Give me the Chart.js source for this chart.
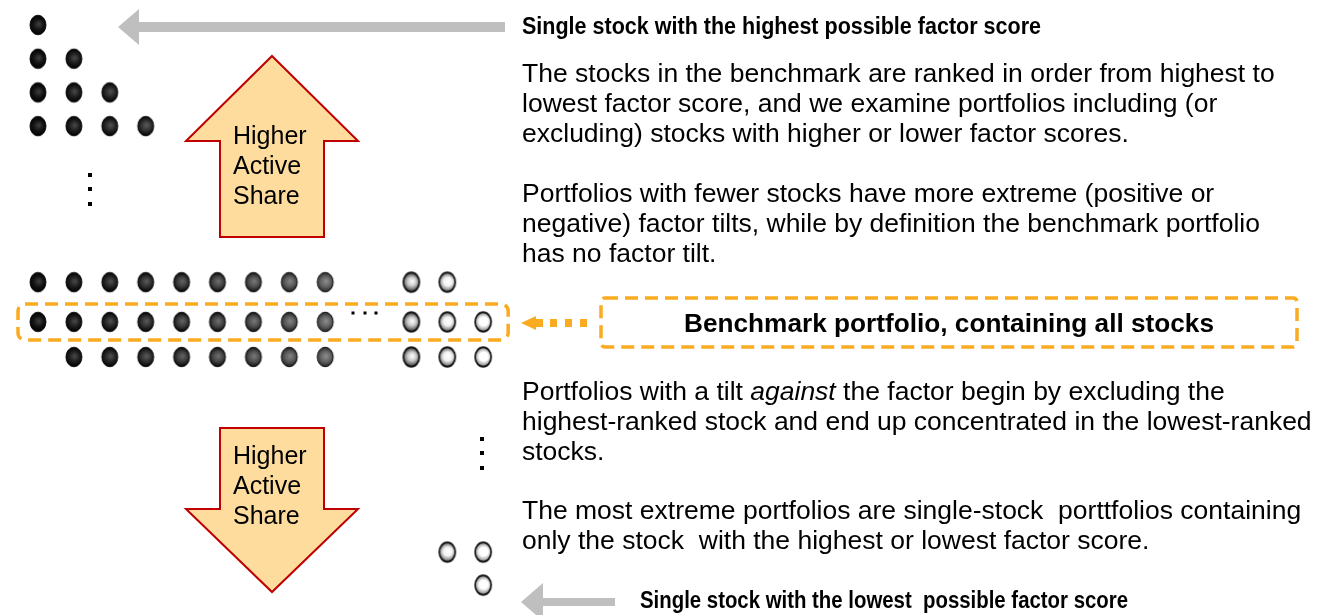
<!DOCTYPE html>
<html>
<head>
<meta charset="utf-8">
<script src="https://cdn.jsdelivr.net/npm/chart.js@4"></script>
<style>
  html, body { margin: 0; padding: 0; background: #fff; }
  #wrap { position: relative; width: 1320px; height: 615px; }
</style>
</head>
<body>
<div id="wrap"><canvas id="chart"></canvas></div>
<script>
// stock columns, ranked from highest to lowest factor score (gap = omitted stocks)
const columns = [0, 1, 2, 3, 4, 5, 6, 7, 8, 10.4, 11.4, 12.4];
// brightness of each stock's dot (0 = black, 1 = white)
const shades = [0.03, 0.07, 0.1, 0.14, 0.18, 0.22, 0.26, 0.3, 0.34, 0.74, 0.9, 1.0];

// portfolios: vertical position and which stocks (indexes into columns) they hold
const rowY = [0, 1, 2, 3, 7.63, 8.81, 9.85, 15.64, 16.62];
const rowMembers = [
  [0],
  [0, 1],
  [0, 1, 2],
  [0, 1, 2, 3],
  [0, 1, 2, 3, 4, 5, 6, 7, 8, 9, 10],
  [0, 1, 2, 3, 4, 5, 6, 7, 8, 9, 10, 11],
  [1, 2, 3, 4, 5, 6, 7, 8, 9, 10, 11],
  [10, 11],
  [11]
];
const benchmarkRow = 5;

const topLabel = "Single stock with the highest possible factor score";
const bottomLabel = "Single stock with the lowest  possible factor score";
const benchmarkLabel = "Benchmark portfolio, containing all stocks";
const arrowLabel = ["Higher", "Active", "Share"];

const paraTop = [
  "The stocks in the benchmark are ranked in order from highest to",
  "lowest factor score, and we examine portfolios including (or",
  "excluding) stocks with higher or lower factor scores.",
  "",
  "Portfolios with fewer stocks have more extreme (positive or",
  "negative) factor tilts, while by definition the benchmark portfolio",
  "has no factor tilt."
];
const paraBottom = [
  ["Portfolios with a tilt ", "against", " the factor begin by excluding the"],
  "highest-ranked stock and end up concentrated in the lowest-ranked",
  "stocks.",
  "",
  "The most extreme portfolios are single-stock  porttfolios containing",
  "only the stock  with the highest or lowest factor score."
];

const ORANGE = "#fbab1f";
const GREY = "#bfbfbf";
const SANS = '"Liberation Sans", Arial, sans-serif';
const NARROW = '"Liberation Sans Narrow", "Arial Narrow", "Liberation Sans", Arial, sans-serif';

// build point list from the arrays
const points = [];
rowMembers.forEach((members, r) => {
  members.forEach(ci => {
    points.push({ x: columns[ci], y: rowY[r], s: shades[ci] });
  });
});

// glossy dot images, cached by shade
const dotCache = {};
function grey(v) {
  const c = Math.max(0, Math.min(255, Math.round(v * 255)));
  return "rgb(" + c + "," + c + "," + c + ")";
}
function dotImage(s) {
  if (dotCache[s]) return dotCache[s];
  const c = document.createElement("canvas");
  c.width = 20; c.height = 24;
  const g = c.getContext("2d");
  const cx = 10, cy = 12, rx = 8, ry = 9.8;
  const grad = g.createRadialGradient(cx + 1, cy - 1, 0, cx, cy, ry);
  if (s > 0.6) {
    grad.addColorStop(0, "#ffffff");
    grad.addColorStop(0.45, grey(Math.min(1, s + 0.05)));
    grad.addColorStop(0.8, grey(s - 0.35));
    grad.addColorStop(1, "#111");
  } else {
    grad.addColorStop(0, grey(s + 0.22));
    grad.addColorStop(0.55, grey(s + 0.04));
    grad.addColorStop(1, grey(Math.max(0, s - 0.2)));
  }
  g.beginPath();
  g.ellipse(cx, cy, rx, ry, 0, 0, Math.PI * 2);
  g.fillStyle = grad;
  g.fill();
  g.lineWidth = s > 0.6 ? 1.8 : 1;
  g.strokeStyle = "rgba(0,0,0,0.85)";
  g.stroke();
  dotCache[s] = c;
  return c;
}

function poly(ctx, pts) {
  ctx.beginPath();
  ctx.moveTo(pts[0][0], pts[0][1]);
  for (let i = 1; i < pts.length; i++) ctx.lineTo(pts[i][0], pts[i][1]);
  ctx.closePath();
}

// draw text squeezed/stretched to a given width (narrow bold look)
function fitText(ctx, text, x, y, w) {
  const m = ctx.measureText(text).width;
  ctx.save();
  ctx.translate(x, y);
  ctx.scale(w / m, 1);
  ctx.fillText(text, 0, 0);
  ctx.restore();
}

const diagramPlugin = {
  id: "diagram",
  beforeDatasetsDraw(chart) {
    const ctx = chart.ctx;
    const xs = chart.scales.x, ys = chart.scales.y;
    ctx.save();

    // grey pointer arrows
    ctx.fillStyle = GREY;
    poly(ctx, [[118, 27], [139, 9], [139, 22], [505, 22], [505, 32], [139, 32], [139, 45]]);
    ctx.fill();
    poly(ctx, [[521, 602], [543, 583], [543, 598], [615, 598], [615, 606], [543, 606], [543, 621]]);
    ctx.fill();

    // block arrows
    ctx.fillStyle = "#fddc9e";
    ctx.strokeStyle = "#c00000";
    ctx.lineWidth = 2;
    ctx.lineJoin = "miter";
    poly(ctx, [[272, 56], [358, 141], [324, 141], [324, 237], [220, 237], [220, 141], [186, 141]]);
    ctx.fill(); ctx.stroke();
    poly(ctx, [[220, 428], [324, 428], [324, 509], [358, 509], [272, 592], [186, 509], [220, 509]]);
    ctx.fill(); ctx.stroke();

    // dashed box around the benchmark row
    const bm = rowMembers[benchmarkRow];
    const bx0 = xs.getPixelForValue(columns[bm[0]]) - 20;
    const bx1 = xs.getPixelForValue(columns[bm[bm.length - 1]]) + 25;
    const by = ys.getPixelForValue(rowY[benchmarkRow]);
    ctx.strokeStyle = ORANGE;
    ctx.lineWidth = 3.5;
    ctx.setLineDash([13, 7]);
    ctx.beginPath();
    ctx.roundRect(bx0, by - 18, bx1 - bx0, 36, 7);
    ctx.stroke();

    // label box
    ctx.beginPath();
    ctx.roundRect(601, 298, 696, 49, 4);
    ctx.stroke();
    ctx.setLineDash([]);

    // dotted orange pointer
    ctx.fillStyle = ORANGE;
    poly(ctx, [[521, 323], [536, 316], [536, 319], [543, 319], [543, 327], [536, 327], [536, 330]]);
    ctx.fill();
    [550, 565, 580].forEach(dx => ctx.fillRect(dx, 319, 7, 8));

    // ellipses
    ctx.fillStyle = "#000";
    [175, 189, 204].forEach(dy => ctx.fillRect(88, dy - 2, 4, 4));
    [439, 453, 468].forEach(dy => ctx.fillRect(480, dy - 2, 4, 4));
    [353, 365, 376].forEach(dx => ctx.fillRect(dx - 1.5, 311.5, 3, 3));

    ctx.restore();
  },
  afterDraw(chart) {
    const ctx = chart.ctx;
    ctx.save();
    ctx.fillStyle = "#000";
    ctx.textBaseline = "middle";
    ctx.textAlign = "left";

    // bold narrow labels
    ctx.font = "bold 23px " + NARROW;
    fitText(ctx, topLabel, 522, 28, 519);
    fitText(ctx, bottomLabel, 640, 602, 488);
    ctx.font = "bold 26px " + NARROW;
    fitText(ctx, benchmarkLabel, 684, 325, 530);

    // block arrow labels
    ctx.font = "25px " + SANS;
    [137, 167, 197].forEach((y, i) => ctx.fillText(arrowLabel[i], 233, y));
    [457, 487, 517].forEach((y, i) => ctx.fillText(arrowLabel[i], 233, y));

    // paragraphs
    const FS = "26.5px ";
    ctx.font = FS + SANS;
    paraTop.forEach((line, i) => {
      if (line) ctx.fillText(line, 522, 75 + i * 30);
    });
    paraBottom.forEach((line, i) => {
      const y = 393 + i * 29.7;
      if (Array.isArray(line)) {
        let x = 522;
        line.forEach((part, k) => {
          ctx.font = (k === 1 ? "italic " : "") + FS + SANS;
          ctx.fillText(part, x, y);
          x += ctx.measureText(part).width;
        });
        ctx.font = FS + SANS;
      } else if (line) {
        ctx.fillText(line, 522, y);
      }
    });
    ctx.restore();
  }
};

new Chart("chart", {
  type: "scatter",
  data: {
    datasets: [{
      data: points,
      pointStyle: (c) => dotImage(c.raw ? c.raw.s : 0),
      pointRadius: 10,
      showLine: false
    }]
  },
  options: {
    responsive: true,
    maintainAspectRatio: false,
    animation: false,
    events: [],
    layout: { padding: 0, autoPadding: false },
    plugins: {
      legend: { display: false },
      tooltip: { enabled: false }
    },
    scales: {
      x: { type: "linear", display: false, min: -38 / 35.9, max: (1320 - 38) / 35.9 },
      y: { type: "linear", display: false, reverse: true, min: -25 / 33.7, max: (615 - 25) / 33.7 }
    }
  },
  plugins: [diagramPlugin]
});
</script>
</body>
</html>
